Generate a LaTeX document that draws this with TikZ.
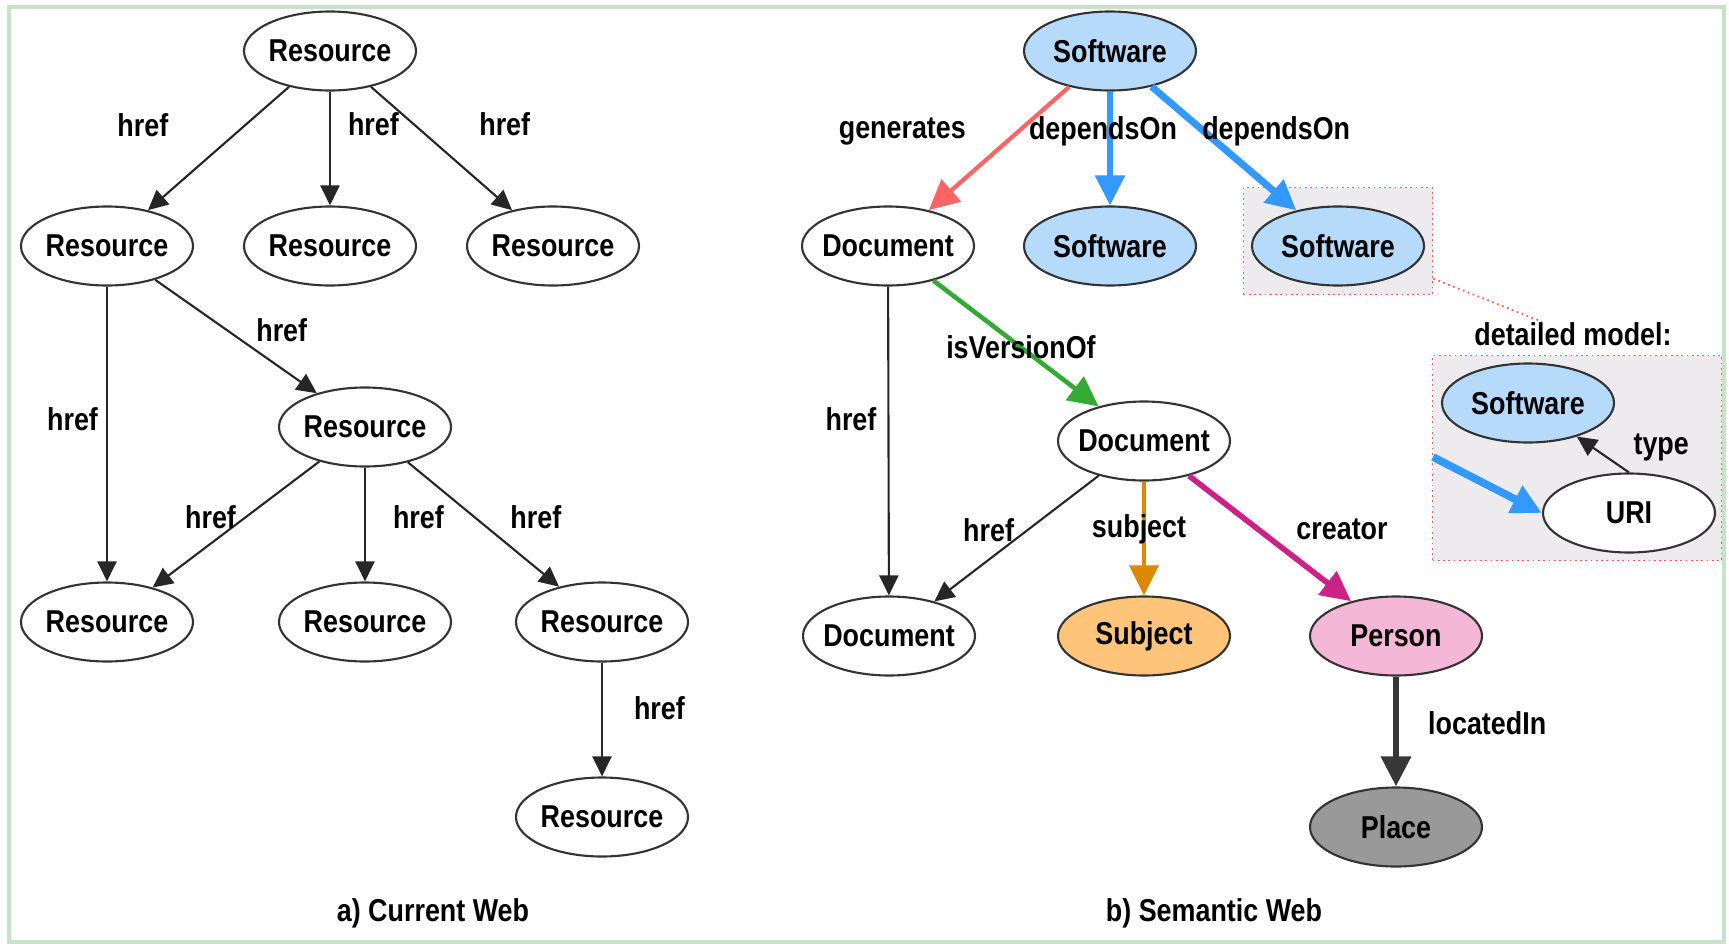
\documentclass[tikz,border=0pt]{standalone}
\usepackage{fontspec}
\setmainfont{Liberation Sans}[FakeStretch=0.85]
\usetikzlibrary{shapes.geometric, arrows.meta}

\definecolor{swblue}{RGB}{181,218,250}
\definecolor{depblue}{RGB}{51,153,255}
\definecolor{genred}{RGB}{255,100,100}
\definecolor{vergreen}{RGB}{51,170,51}
\definecolor{subjfill}{RGB}{253,196,122}
\definecolor{subjline}{RGB}{221,136,0}
\definecolor{personfill}{RGB}{245,183,216}
\definecolor{creatline}{RGB}{204,34,136}
\definecolor{placefill}{RGB}{153,153,153}
\definecolor{locline}{RGB}{55,55,55}
\definecolor{boxgray}{RGB}{238,235,238}
\definecolor{boxred}{RGB}{255,90,90}
\definecolor{framegreen}{RGB}{200,225,200}

\newcommand{\diafont}{\fontsize{9}{10}\selectfont\bfseries}

\tikzstyle{whitenode} = [ellipse, minimum width=1.72cm, minimum height=0.79cm, inner xsep=-3mm, inner ysep=0pt, text centered, draw=black!80, line width=0.6pt, fill=white, font=\diafont]
\tikzstyle{swnode} = [whitenode, fill=swblue]
\tikzstyle{subjnode} = [whitenode, fill=subjfill]
\tikzstyle{personnode} = [whitenode, fill=personfill]
\tikzstyle{placenode} = [whitenode, fill=placefill]
\tikzstyle{hlbox} = [rectangle, draw=boxred, densely dotted, line width=0.5pt, fill=boxgray, minimum width=1.89cm, minimum height=1.07cm, inner sep=0pt]
\tikzstyle{lbl} = [font=\diafont, inner sep=0pt]
\tikzstyle{arrow} = [draw=black!85, line width=0.6pt, -{Triangle[length=2mm,width=1.9mm]}]
\tikzstyle{bigtip} = [-{Triangle[length=3mm,width=2.9mm]}]
\tikzstyle{genarrow} = [bigtip, draw=genred, fill=genred, line width=1.2pt]
\tikzstyle{deparrow} = [bigtip, draw=depblue, fill=depblue, line width=1.6pt]
\tikzstyle{verarrow} = [bigtip, draw=vergreen, fill=vergreen, line width=1.3pt]
\tikzstyle{subjarrow} = [bigtip, draw=subjline, fill=subjline, line width=0.9pt]
\tikzstyle{creatarrow} = [bigtip, draw=creatline, fill=creatline, line width=1.6pt]
\tikzstyle{locarrow} = [bigtip, draw=locline, fill=locline, line width=1.8pt]
\tikzstyle{zoomline} = [draw=boxred, densely dotted, line width=0.5pt]

\begin{document}
\begin{tikzpicture}[node distance=1.95cm]
\useasboundingbox (0,0) rectangle (17.29,-9.44);
\draw [draw=framegreen, line width=0.9pt] (0.09,-0.07) rectangle (17.24,-9.42);

% Current Web
\node (R0) [whitenode] at (3.3,-0.51) {Resource};
\node (R2) [whitenode, below of=R0] {Resource};
\node (R1) [whitenode, left of=R2, xshift=-0.28cm] {Resource};
\node (R3) [whitenode, right of=R2, xshift=0.28cm] {Resource};
\node (R4) [whitenode, below of=R2, xshift=0.35cm, yshift=0.14cm] {Resource};
\node (R6) [whitenode, below of=R4] {Resource};
\node (R5) [whitenode, below of=R1, yshift=-1.81cm] {Resource};
\node (R7) [whitenode, right of=R6, xshift=0.42cm] {Resource};
\node (R8) [whitenode, below of=R7] {Resource};

% Semantic Web
\node (S0) [swnode] at (11.1,-0.51) {Software};
\node (S1) [swnode, below of=S0] {Software};
\node (D1) [whitenode, left of=S1, xshift=-0.27cm] {Document};
\node (S2box) [hlbox, right of=S1, xshift=0.33cm, yshift=0.05cm] {};
\node (S2) [swnode, right of=S1, xshift=0.33cm] {Software};
\node (D2) [whitenode, below of=S1, xshift=0.34cm] {Document};
\node (Subj) [subjnode, below of=D2] {Subject};
\node (D3) [whitenode, left of=Subj, xshift=-0.6cm] {Document};
\node (Person) [personnode, right of=Subj, xshift=0.57cm] {Person};
\node (Place) [placenode, below of=Person, yshift=0.04cm] {Place};

% detailed model
\node (detlbl) [lbl] at (15.73,-3.34) {detailed model:};
\node (detbox) [hlbox, minimum width=2.89cm, minimum height=2.05cm] at (15.77,-4.58) {};
\node (DS) [swnode] at (15.28,-4.03) {Software};
\node (URI) [whitenode] at (16.29,-5.13) {URI};
\coordinate (din) at (14.33,-4.57);

% captions
\node (capA) [lbl] at (4.33,-9.13) {a) Current Web};
\node (capB) [lbl] at (12.14,-9.13) {b) Semantic Web};

% Arrows, current web
\draw [arrow] (R0) -- node[lbl, pos=0.31, left=7.6mm] {href} (R1);
\draw [arrow] (R0) -- node[lbl, pos=0.29, right=1.7mm] {href} (R2);
\draw [arrow] (R0) -- node[lbl, pos=0.3, right=6.5mm] {href} (R3);
\draw [arrow] (R1) -- node[lbl, pos=0.44, right=2.9mm] {href} (R4);
\draw [arrow] (R1) -- node[lbl, pos=0.45, left=0.8mm] {href} (R5);
\draw [arrow] (R4) -- node[lbl, pos=0.44, left=0.9mm] {href} (R5);
\draw [arrow] (R4) -- node[lbl, pos=0.44, right=2.7mm] {href} (R6);
\draw [arrow] (R4) -- node[lbl, pos=0.44, right=3.5mm] {href} (R7);
\draw [arrow] (R7) -- node[lbl, pos=0.4, right=3.1mm] {href} (R8);

% Arrows, semantic web
\draw [genarrow] (S0) -- node[lbl, pos=0.365, left=5mm] {generates} (D1);
\draw [deparrow] (S0) -- node[lbl, pos=0.35, xshift=-0.7mm] {dependsOn} (S1);
\draw [deparrow, line width=2pt] (S0) -- node[lbl, pos=0.36, right=-0.5mm] {dependsOn} (S2);
\draw [verarrow] (D1) -- node[lbl, pos=0.53] {isVersionOf} (D2);
\draw [arrow] (D1) -- node[lbl, pos=0.43, left=1.1mm] {href} (D3);
\draw [arrow] (D2) -- node[lbl, pos=0.43, left=1.3mm] {href} (D3);
\draw [subjarrow] (D2) -- node[lbl, pos=0.42, xshift=-0.5mm] {subject} (Subj);
\draw [creatarrow] (D2) -- node[lbl, pos=0.43, right=3.5mm] {creator} (Person);
\draw [locarrow] (Person) -- node[lbl, pos=0.42, right=2.9mm] {locatedIn} (Place);
\draw [arrow] (URI.north) -- node[lbl, pos=0.7, right=4mm] {type} (DS);
\draw [deparrow, line width=2.2pt] (din) -- (URI.west);
\draw [zoomline] (S2box) -- (detlbl);

\end{tikzpicture}
\end{document}
